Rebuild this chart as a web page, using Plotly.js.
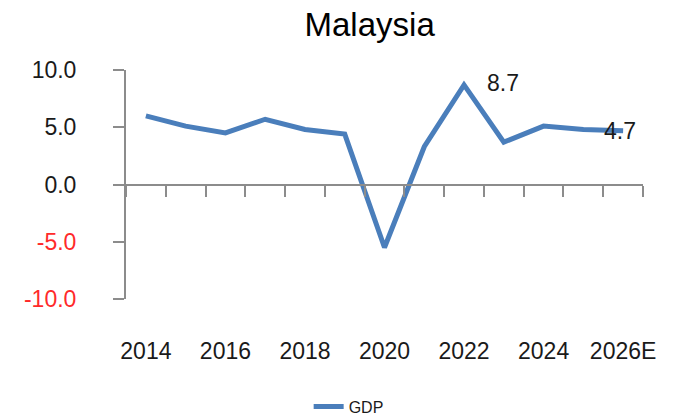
<!DOCTYPE html>
<html>
<head>
<meta charset="utf-8">
<script src="https://cdn.plot.ly/plotly-3.0.1.min.js"></script>
<style>html,body{margin:0;padding:0;background:#fff;}#chart{width:677px;height:417px;}</style>
</head>
<body>
<div id="chart"></div>
<script>
const years = ['2014','2015','2016','2017','2018','2019','2020','2021','2022','2023','2024','2025','2026E'];
const gdp = [6.0, 5.1, 4.5, 5.7, 4.8, 4.4, -5.5, 3.3, 8.7, 3.7, 5.1, 4.8, 4.7];
const pointLabels = ['', '', '', '', '', '', '', '', '8.7', '', '', '', '4.7'];
const xTickLabels = ['2014','2016','2018','2020','2022','2024','2026E'];
const yTickVals = [-10, -5, 0, 5, 10];

const FONT = 'Liberation Sans, Arial, sans-serif';
const yTickText = yTickVals.map(v => v < 0 ? '<span style="color:#ff2a2a">' + v.toFixed(1) + '</span>' : v.toFixed(1));

const annotations = [];
pointLabels.forEach((t, i) => {
  if (!t) return;
  const last = i === years.length - 1;
  annotations.push({
    x: i, y: gdp[i], xref: 'x', yref: 'y', text: t, showarrow: false,
    xanchor: last ? 'center' : 'left', yanchor: 'middle',
    xshift: last ? -3 : 21, yshift: last ? 0 : 2,
    font: {family: FONT, size: 23, color: '#1a1a1a'}
  });
});

const trace = {
  x: years, y: gdp, type: 'scatter', mode: 'lines', name: 'GDP',
  line: {color: '#4a7ebb', width: 5}, hoverinfo: 'skip'
};

const layout = {
  width: 677, height: 417,
  margin: {l: 126, r: 34, t: 70, b: 118},
  paper_bgcolor: '#fff', plot_bgcolor: '#fff',
  font: {family: FONT, color: '#1a1a1a'},
  title: {text: 'Malaysia', font: {family: FONT, size: 33, color: '#000'}, xref: 'container', x: 0.546, xanchor: 'center', yref: 'container', y: 0.942, yanchor: 'middle'},
  xaxis: {
    type: 'category', categoryorder: 'array', categoryarray: years,
    range: [-0.5, years.length - 0.5],
    tickmode: 'array', tickvals: xTickLabels, ticktext: xTickLabels,
    showline: false, showgrid: false, zeroline: false,
    ticks: 'outside', ticklen: 31, tickcolor: 'rgba(0,0,0,0)',
    tickfont: {family: FONT, size: 23, color: '#1a1a1a'}, fixedrange: true
  },
  xaxis2: {
    overlaying: 'x', anchor: 'free', position: 0.5, side: 'bottom',
    type: 'linear', range: [-0.5, years.length - 0.5], tick0: -0.5, dtick: 1,
    showline: true, linecolor: '#8c8c8c', linewidth: 2,
    ticks: 'outside', ticklen: 11, tickwidth: 2, tickcolor: '#8c8c8c',
    showticklabels: false, showgrid: false, zeroline: false, fixedrange: true
  },
  yaxis: {
    range: [-10, 10], tickmode: 'array', tickvals: yTickVals, ticktext: yTickText,
    showline: true, linecolor: '#8c8c8c', linewidth: 2,
    ticks: 'outside', ticklen: 11, tickwidth: 2, tickcolor: '#8c8c8c',
    ticklabelstandoff: 32,
    showgrid: false, zeroline: false,
    tickfont: {family: FONT, size: 23, color: '#1a1a1a'}, fixedrange: true
  },
  showlegend: true,
  legend: {orientation: 'h', x: 0.515, xanchor: 'center', xref: 'container', y: 0.025, yref: 'container', yanchor: 'middle', font: {family: FONT, size: 16, color: '#1a1a1a'}},
  annotations: annotations
};

const dummy = {x: [0], y: [0], xaxis: 'x2', yaxis: 'y', type: 'scatter', mode: 'lines', showlegend: false, hoverinfo: 'skip', line: {width: 0}};

Plotly.newPlot('chart', [trace, dummy], layout, {staticPlot: true, displayModeBar: false});
</script>
</body>
</html>
